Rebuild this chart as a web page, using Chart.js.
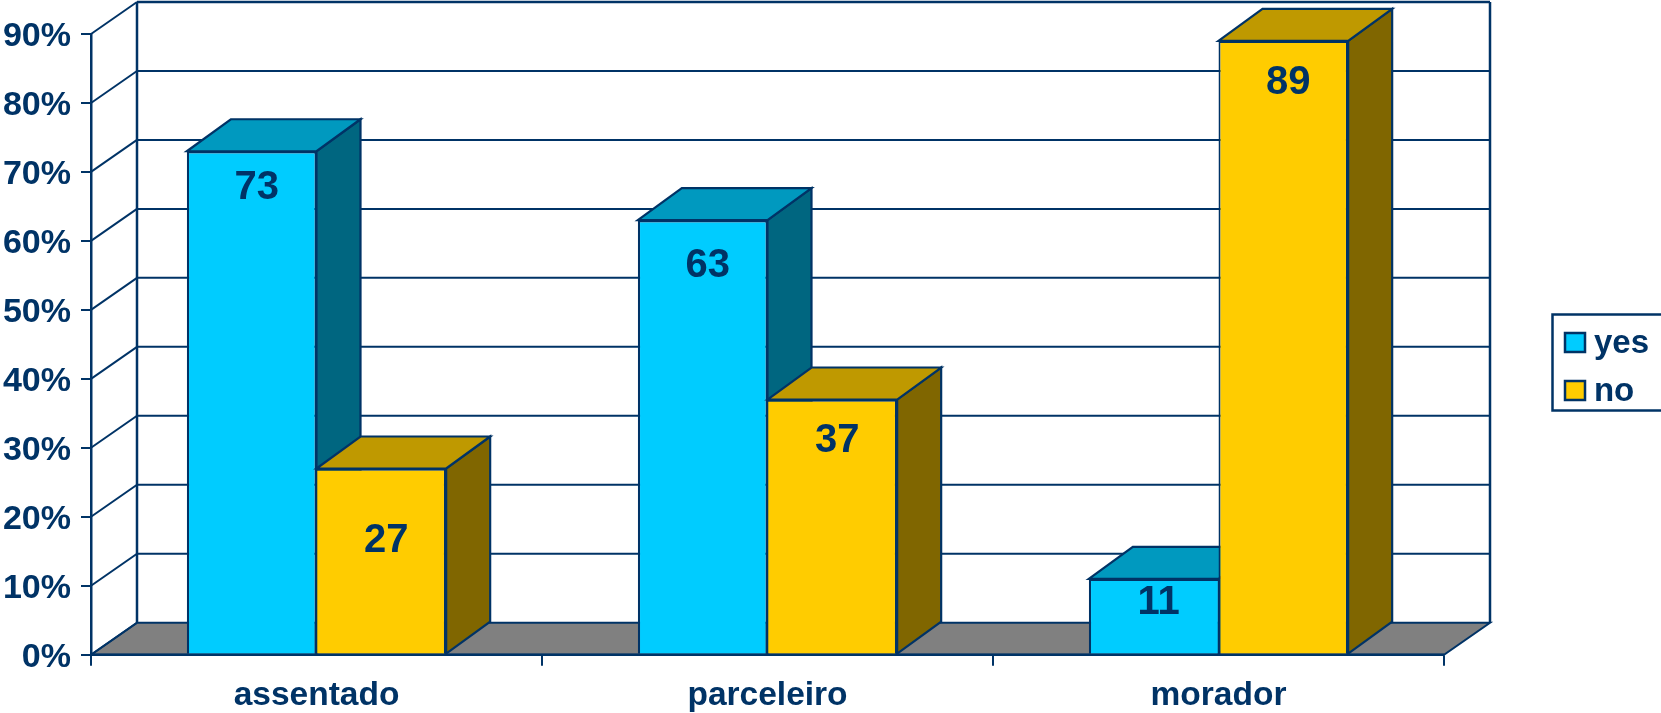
<!DOCTYPE html>
<html><head><meta charset="utf-8">
<style>html,body{margin:0;padding:0;background:#fff}canvas{display:block}</style>
<script src="https://cdn.jsdelivr.net/npm/chart.js@4"></script></head>
<body><div style="width:1661px;height:713px"><canvas id="c"></canvas></div>
<script>
const categories = ['assentado','parceleiro','morador'];
const yesValues = [73,63,11];
const noValues = [27,37,89];
const yTickStep = 10;
const yMax = 90;
// manual placement of the value labels below each bar top (px), as in the reference
const yesLabelDrop = [37,46,24];
const noLabelDrop = [72,41,42];

const NAVY='#003366', FONT='"Liberation Sans", Arial, sans-serif';
const DX=46, DY=-32, BAR_DX=44, BAR_DY=-32, PLOT_L=91, PLOT_R=1444, PLOT_T=34, PLOT_B=654.7, LEG_PAD_R=2, PAD_T=22, BW=2.2;

function poly(ctx,pts,fill,lw){
  ctx.beginPath();pts.forEach((p,i)=>i?ctx.lineTo(p[0],p[1]):ctx.moveTo(p[0],p[1]));ctx.closePath();
  if(fill){ctx.fillStyle=fill;ctx.fill();}
  ctx.lineWidth=lw;ctx.strokeStyle=NAVY;ctx.lineJoin='miter';ctx.stroke();
}
function seg(ctx,x1,y1,x2,y2,lw){ctx.beginPath();ctx.moveTo(x1,y1);ctx.lineTo(x2,y2);ctx.lineWidth=lw;ctx.strokeStyle=NAVY;ctx.stroke();}

const box3d={id:'box3d',
  beforeDatasetsDraw(chart){
    const c=chart.ctx,a=chart.chartArea,y=chart.scales.y;
    c.save();
    poly(c,[[a.left,a.bottom],[a.left+DX,a.bottom+DY],[a.right+DX,a.bottom+DY],[a.right,a.bottom]],'#808080',2);
    y.ticks.forEach(t=>{
      const py=y.getPixelForValue(t.value);
      seg(c,a.left,py,a.left+DX,py+DY,2);
      if(t.value>0) seg(c,a.left+DX,py+DY,a.right+DX,py+DY,t.value===yMax?2.5:2);
    });
    seg(c,a.left+DX,a.top+DY,a.left+DX,a.bottom+DY,2.5);
    seg(c,a.right+DX,a.top+DY,a.right+DX,a.bottom+DY,2.5);
    c.restore();
    // paint the bars left to right so each bar's top covers the side of its neighbour
    chart.data.datasets.forEach((ds,i)=>{
      const meta=chart.getDatasetMeta(i);
      c.save();
      meta.data.forEach(b=>{
        const p=b.getProps(['x','y','base','width'],true);
        const l=p.x-p.width/2,r=p.x+p.width/2;
        poly(c,[[r,p.y],[r+BAR_DX,p.y+BAR_DY],[r+BAR_DX,p.base+BAR_DY],[r,p.base]],ds.sideColor,BW);
        poly(c,[[l,p.y],[l+BAR_DX,p.y+BAR_DY],[r+BAR_DX,p.y+BAR_DY],[r,p.y]],ds.topColor,BW);
      });
      c.restore();
      meta.controller.draw();
    });
    seg(c,a.left,a.bottom,a.right,a.bottom,2.5);
    c.save();
    c.fillStyle=NAVY;c.font='bold 40px '+FONT;c.textAlign='center';c.textBaseline='middle';
    chart.data.datasets.forEach((ds,i)=>{
      chart.getDatasetMeta(i).data.forEach((b,j)=>{
        c.fillText(String(ds.data[j]),b.x+5,b.y+ds.labelDrop[j]);
      });
    });
    c.restore();
    return false;
  },
  afterDraw(chart){
    const c=chart.ctx,L=chart.legend;
    if(!L||!L.legendHitBoxes)return;
    const hb=L.legendHitBoxes;
    const cy=(hb[0].top+hb[1].top+hb[1].height)/2-5;
    c.save();c.lineWidth=2.5;c.strokeStyle=NAVY;
    c.strokeRect(1552.5,cy-48,120,96);
    hb.forEach((h,i)=>{
      const yc=h.top+h.height/2-1;
      c.fillStyle=chart.data.datasets[i].backgroundColor;
      c.fillRect(1565,yc-9.5,20,19);
      c.strokeRect(1565,yc-9.5,20,19);
    });
    c.restore();
  }
};

new Chart(document.getElementById('c'),{
  type:'bar',
  data:{labels:categories,datasets:[
    {label:'yes',data:yesValues,xAxisID:'x',yAxisID:'y',backgroundColor:'#00CCFF',topColor:'#0099BF',sideColor:'#006680',labelDrop:yesLabelDrop,borderColor:NAVY,
     borderWidth:ctx=>({top:BW,left:BW,bottom:0,right:yesValues[ctx.dataIndex]>noValues[ctx.dataIndex]?2:0.8}),categoryPercentage:0.575,barPercentage:1},
    {label:'no',data:noValues,xAxisID:'x',yAxisID:'y',backgroundColor:'#FFCC00',topColor:'#BF9900',sideColor:'#806600',labelDrop:noLabelDrop,borderColor:NAVY,
     borderWidth:ctx=>({top:BW,right:BW,bottom:0,left:noValues[ctx.dataIndex]>yesValues[ctx.dataIndex]?2:0.8}),categoryPercentage:0.575,barPercentage:1}
  ]},
  options:{
    responsive:true,maintainAspectRatio:false,animation:false,devicePixelRatio:1,
    layout:{padding:{top:PAD_T,bottom:0,left:0,right:LEG_PAD_R}},
    scales:{
      x:{type:'category',
        afterFit(s){s.height=713-PLOT_B;},
        grid:{offset:true,drawOnChartArea:false,drawTicks:true,tickLength:11,color:NAVY,lineWidth:2},
        border:{display:true,color:NAVY,width:2.5},
        ticks:{color:NAVY,font:{family:FONT,size:33.5,weight:'bold'},padding:10,maxRotation:0}},
      y:{type:'linear',min:0,max:yMax,
        afterFit(s){s.width=PLOT_L;},
        grid:{drawOnChartArea:false,drawTicks:true,tickLength:10,color:NAVY,lineWidth:2},
        border:{display:true,color:NAVY,width:2.5},
        ticks:{stepSize:yTickStep,color:NAVY,padding:10,labelOffset:2.5,font:{family:FONT,size:34,weight:'bold'},callback:v=>v+'%'}},
      gapRight:{type:'linear',axis:'y',position:'right',display:true,
        afterFit(s){s.width=1661-LEG_PAD_R-(s.chart.legend?s.chart.legend.width:107.5)-PLOT_R;},
        grid:{display:false},border:{display:false},ticks:{display:false}},
      gapTop:{type:'linear',axis:'x',position:'top',display:true,
        afterFit(s){s.height=PLOT_T-PAD_T;},
        grid:{display:false},border:{display:false},ticks:{display:false}}
    },
    plugins:{
      tooltip:{enabled:false},
      title:{display:false},
      legend:{display:true,position:'right',align:'center',
        labels:{color:NAVY,boxWidth:15,boxHeight:19,padding:15,font:{family:FONT,size:33,weight:'bold'},
          generateLabels(chart){return chart.data.datasets.map((d,i)=>({text:d.label,fillStyle:'rgba(0,0,0,0)',strokeStyle:'rgba(0,0,0,0)',lineWidth:0,datasetIndex:i,fontColor:NAVY}));}}}
    }
  },
  plugins:[box3d]
});
</script></body></html>
